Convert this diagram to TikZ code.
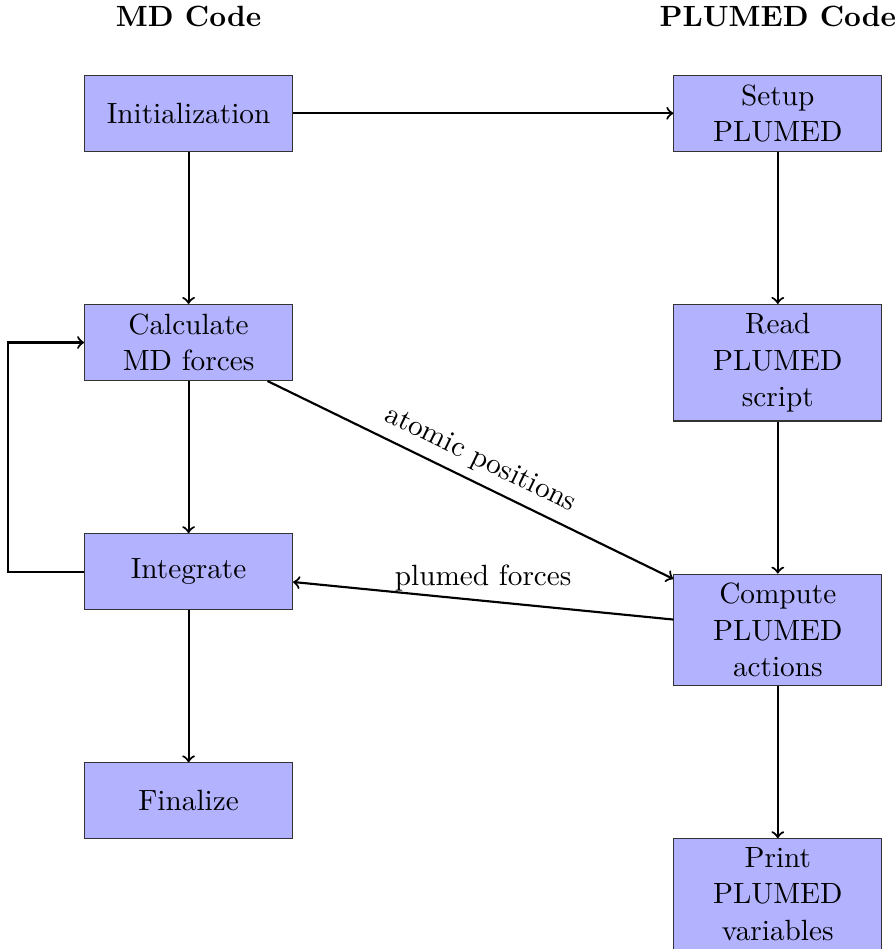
\documentclass[tikz,border=0pt]{standalone}
\usetikzlibrary{positioning}
\begin{document}
\begin{tikzpicture}[font=\fontsize{10.95}{13.6}\selectfont,
		block/.style={rectangle, draw=black!80, fill=blue!30, text width=2.5cm, align=center, minimum height=1cm},
		header/.style={font=\fontsize{10.95}{13.6}\selectfont\bfseries},
		line/.style={->, thick},
		node distance=2cm and 5cm]
		\useasboundingbox (-2.48,-10.99) rectangle (9.30,1.49);
		% MD code
		\node[block] (init) {Initialization};
		\node[block, below=of init] (calc) {Calculate\\MD forces};
		\node[block, below=of calc] (integrate) {Integrate};
		\node[block, below=of integrate] (final) {Finalize};
		
		% PLUMED code
		\node[block, right=of init] (setup) {Setup\\PLUMED};
		\node[block, below=of setup] (read) {Read\\PLUMED\\script};
		\node[block, below=of read] (compute) {Compute\\PLUMED\\actions};
		\node[block, below=of compute] (print) {Print\\PLUMED\\variables};
		
		% Headers
		\node[header, above=0.5cm of init] (mdhead) {MD Code};
		\node[header, above=0.5cm of setup] (plhead) {PLUMED Code};
		
		% Arrows
		\draw[line] (init) -- (calc);
		\draw[line] (calc) -- (integrate);
		\draw[line] (integrate) -- (final);
		\draw[line] (init) -- (setup);
		\draw[line] (setup) -- (read);
		\draw[line] (read) -- (compute);
		\draw[line] (compute) -- (print);
		\draw[line] (calc) -- node[above, sloped] {atomic positions} (compute);
		\draw[line] (compute) -- node[above] {plumed forces} (integrate);
		\draw[line] (integrate.west) -- ++(-1,0) |- (calc.west);
	\end{tikzpicture}
\end{document}
